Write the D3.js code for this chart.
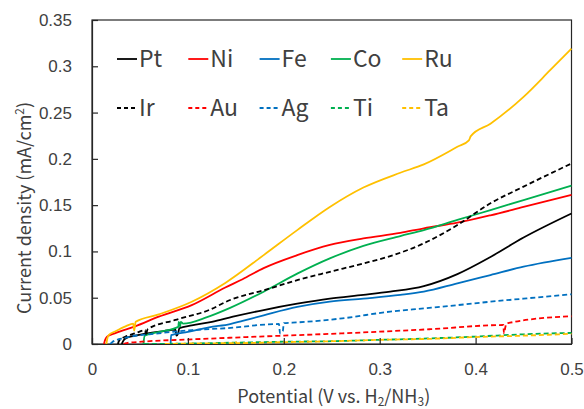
<!DOCTYPE html>
<html><head><meta charset="utf-8">
<script src="https://cdn.jsdelivr.net/npm/d3@7"></script>
<style>
html,body{margin:0;padding:0;background:#fff;}
svg{display:block;font-family:"Noto Sans CJK JP","Noto Sans",sans-serif;}
</style></head>
<body>
<svg id="c" width="584" height="409"></svg>
<script>
// ---- data (potential V, current density mA/cm2) ----
const seriesNames = ["Pt","Ni","Fe","Co","Ru","Ir","Au","Ag","Ti","Ta"];
const seriesColors = ["#000000","#FF0000","#0070C0","#00B050","#FFC000","#000000","#FF0000","#0070C0","#00B050","#FFC000"];
const seriesDashed = [false,false,false,false,false,true,true,true,true,true];

const Pt = [[0.031,0],[0.033,0.004],[0.036,0.0065],[0.045,0.009],[0.057,0.0115],[0.075,0.014],[0.087,0.0155],[0.088,0.009],[0.090,0.012],[0.091,0.017],[0.104,0.020],[0.125,0.024],[0.147,0.0295],[0.179,0.0367],[0.214,0.0435],[0.248,0.049],[0.283,0.053],[0.311,0.0565],[0.346,0.0625],[0.381,0.0755],[0.4155,0.094],[0.45,0.115],[0.5,0.141]];
const Ni = [[0.0125,0],[0.0135,0.004],[0.0157,0.008],[0.025,0.012],[0.045,0.019],[0.0696,0.0295],[0.104,0.042],[0.139,0.061],[0.157,0.070],[0.179,0.082],[0.214,0.096],[0.248,0.107],[0.283,0.114],[0.3215,0.120],[0.346,0.125],[0.381,0.131],[0.4155,0.139],[0.45,0.148],[0.5,0.161]];
const Fe = [[0.082,0],[0.0825,0.0095],[0.1,0.013],[0.122,0.018],[0.144,0.0215],[0.157,0.025],[0.179,0.031],[0.214,0.040],[0.248,0.0457],[0.283,0.049],[0.3215,0.053],[0.346,0.0565],[0.381,0.0655],[0.4155,0.0745],[0.45,0.0835],[0.5,0.093]];
const Co = [[0.0536,0],[0.055,0.009],[0.07,0.013],[0.090,0.0185],[0.0905,0.024],[0.092,0.019],[0.0925,0.024],[0.095,0.022],[0.12,0.029],[0.144,0.039],[0.179,0.0565],[0.214,0.076],[0.248,0.0925],[0.283,0.106],[0.3215,0.1166],[0.346,0.123],[0.381,0.134],[0.4155,0.1447],[0.45,0.1555],[0.5,0.171]];
const Ru = [[0.015,0],[0.0158,0.005],[0.0174,0.0097],[0.025,0.014],[0.035,0.019],[0.043,0.022],[0.044,0.0144],[0.0455,0.024],[0.0696,0.032],[0.104,0.0457],[0.139,0.066],[0.179,0.096],[0.214,0.123],[0.248,0.148],[0.283,0.169],[0.3215,0.185],[0.346,0.194],[0.381,0.213],[0.393,0.220],[0.395,0.2246],[0.4155,0.238],[0.45,0.267],[0.478,0.296],[0.5,0.319]];
const Ir = [[0.027,0],[0.028,0.003],[0.031,0.006],[0.035,0.008],[0.045,0.0115],[0.0557,0.015],[0.056,0.009],[0.058,0.016],[0.087,0.026],[0.122,0.0367],[0.144,0.0475],[0.179,0.058],[0.214,0.069],[0.248,0.078],[0.283,0.087],[0.311,0.095],[0.346,0.1087],[0.381,0.1285],[0.4155,0.152],[0.45,0.170],[0.5,0.195]];
const Au = [[0.033,0],[0.036,0.001],[0.052,0.0025],[0.104,0.005],[0.174,0.008],[0.261,0.0115],[0.353,0.016],[0.429,0.0205],[0.4295,0.0115],[0.431,0.018],[0.432,0.022],[0.436,0.023],[0.5,0.030]];
const Ag = [[0.019,0],[0.021,0.002],[0.034,0.0065],[0.0696,0.0115],[0.104,0.015],[0.139,0.017],[0.195,0.0216],[0.196,0.0115],[0.199,0.014],[0.2,0.0225],[0.209,0.023],[0.261,0.0277],[0.311,0.035],[0.346,0.0385],[0.381,0.042],[0.4155,0.0457],[0.45,0.049],[0.5,0.0537]];
const Ti = [[0.054,0],[0.1,0.0005],[0.15,0.0015],[0.2,0.0025],[0.25,0.003],[0.3,0.0045],[0.35,0.006],[0.4,0.008],[0.45,0.0105],[0.5,0.012]];
const Ta = [[0.076,0],[0.1,0.0005],[0.148,0.001],[0.149,0.003],[0.151,0.001],[0.2,0.002],[0.25,0.003],[0.3,0.0045],[0.35,0.0055],[0.4,0.0075],[0.45,0.009],[0.5,0.011]];
const seriesData = [Pt,Ni,Fe,Co,Ru,Ir,Au,Ag,Ti,Ta];

const xTicks = [0,0.1,0.2,0.3,0.4,0.5];
const xTickLabels = ["0","0.1","0.2","0.3","0.4","0.5"];
const yTicks = [0,0.05,0.1,0.15,0.2,0.25,0.3,0.35];
const yTickLabels = ["0","0.05","0.1","0.15","0.2","0.25","0.3","0.35"];

// ---- layout ----
const L = 92, R = 571.5, T = 20, B = 344;
const svg = d3.select("#c");
const x = d3.scaleLinear().domain([0,0.5]).range([L,R]);
const y = d3.scaleLinear().domain([0,0.35]).range([B,T]);
const textColor = "#404040";

// frame
svg.append("rect").attr("x",L).attr("y",T).attr("width",R-L).attr("height",B-T)
  .attr("fill","none").attr("stroke","#262626").attr("stroke-width",1.2);

// series
svg.append("clipPath").attr("id","pc").append("rect")
  .attr("x",L).attr("y",T-2).attr("width",R-L+1).attr("height",B-T+2);
const line = d3.line().x(d=>x(d[0])).y(d=>y(d[1])).curve(d3.curveMonotoneX);
const g = svg.append("g").attr("clip-path","url(#pc)");
seriesData.forEach((d,i)=>{
  g.append("path").datum(d).attr("d",line).attr("fill","none")
    .attr("stroke",seriesColors[i]).attr("stroke-width",1.8)
    .attr("stroke-linejoin","round")
    .attr("stroke-dasharray",seriesDashed[i]?"5,3":null);
});

// axes
const xAxis = d3.axisBottom(x).tickValues(xTicks).tickFormat((d,i)=>xTickLabels[i]).tickSizeInner(-6).tickSizeOuter(0).tickPadding(19);
const yAxis = d3.axisLeft(y).tickValues(yTicks).tickFormat((d,i)=>yTickLabels[i]).tickSizeInner(-6).tickSizeOuter(0).tickPadding(20);
const gx = svg.append("g").attr("transform",`translate(0,${B})`).call(xAxis);
const gy = svg.append("g").attr("transform",`translate(${L},0)`).call(yAxis);
[gx,gy].forEach(a=>{
  a.select(".domain").attr("stroke","#262626").attr("stroke-width",1.2);
  a.selectAll(".tick line").attr("stroke","#262626").attr("stroke-width",1.2);
  a.selectAll(".tick text").attr("fill",textColor).attr("font-size",17).attr("font-family",null);
});

// axis titles
const xt = svg.append("text").attr("x",(L+R)/2+2).attr("y",403).attr("text-anchor","middle")
  .attr("fill",textColor).attr("font-size",18);
xt.append("tspan").text("Potential (V vs. H");
xt.append("tspan").attr("font-size",12).attr("dy",3).text("2");
xt.append("tspan").attr("dy",-3).text("/NH");
xt.append("tspan").attr("font-size",12).attr("dy",3).text("3");
xt.append("tspan").attr("dy",-3).text(")");

const yt = svg.append("text").attr("transform",`translate(31,${(T+B)/2+26}) rotate(-90)`)
  .attr("text-anchor","middle").attr("fill",textColor).attr("font-size",18);
yt.append("tspan").text("Current density (mA/cm");
yt.append("tspan").attr("font-size",12).attr("dy",-7).text("2");
yt.append("tspan").attr("dy",7).text(")");

// legend
const legX0 = 117, legDX = 71.3, legY = [59,108];
seriesNames.forEach((n,i)=>{
  const col = i%5, row = Math.floor(i/5);
  const lx = legX0 + col*legDX, ly = legY[row];
  svg.append("line").attr("x1",lx).attr("x2",lx+20).attr("y1",ly).attr("y2",ly)
    .attr("stroke",seriesColors[i]).attr("stroke-width",1.8)
    .attr("stroke-dasharray",seriesDashed[i]?"4,3":null);
  svg.append("text").attr("x",lx+22).attr("y",ly+8).attr("fill",textColor)
    .attr("font-size",23).text(n);
});
</script>
</body></html>
